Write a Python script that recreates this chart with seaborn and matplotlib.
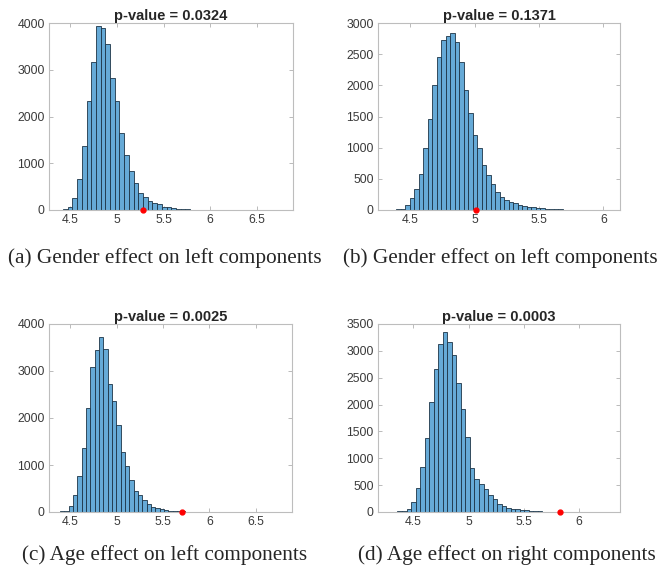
import numpy as np
import pandas as pd
import matplotlib
matplotlib.use("Agg")
import matplotlib.pyplot as plt
import seaborn as sns

sns.set_style("ticks")
plt.rcParams["font.family"] = ["Liberation Sans", "DejaVu Sans"]

# ---------------- permutation histograms (bin counts) ----------------
counts_a = [1, 3, 15, 71, 250, 657, 1371, 2321, 3164, 3929, 3886, 3557, 2821, 2321,
            1643, 1179, 843, 571, 371, 286, 193, 157, 121, 71, 57, 43, 29, 21, 15, 10,
            8, 6, 4, 3, 3, 2, 2, 1, 1, 1, 1, 1, 0, 0, 0, 1, 0, 0, 1]
counts_b = [3, 6, 10, 20, 80, 187, 332, 578, 1002, 1457, 2009, 2448, 2721, 2796, 2839,
            2700, 2368, 1929, 1560, 1205, 990, 720, 560, 420, 290, 210, 165, 135, 115,
            80, 72, 54, 43, 37, 30, 21, 15, 12, 10, 8, 6, 5, 4, 3, 2, 2, 1, 1, 1, 0, 1]
counts_c = [1, 4, 14, 28, 128, 356, 762, 1367, 2221, 3082, 3452, 3722, 3466, 2726, 2363,
            1851, 1267, 975, 676, 448, 356, 249, 164, 114, 93, 71, 50, 28, 21, 15, 11, 8,
            6, 4, 3, 3, 2, 2, 1, 1, 1, 1, 0, 1, 0, 0, 1, 0, 0, 1, 0, 0, 1]
counts_d = [2, 6, 12, 25, 62, 187, 448, 841, 1382, 2055, 2665, 3126, 3350, 3157, 2914,
            2410, 1918, 1389, 822, 610, 529, 423, 324, 249, 156, 112, 75, 62, 50, 37, 31,
            25, 19, 12, 9, 7, 5, 4, 3, 2, 2, 1, 1, 1, 1, 0, 1, 0, 1]

# first bin edge and bin width of each histogram
bin_start = [4.32, 4.32, 4.297, 4.274]
bin_width = [0.0505, 0.035, 0.0466, 0.041]

observed = [5.28, 5.01, 5.70, 5.83]
pvalues = ["0.0324", "0.1371", "0.0025", "0.0003"]
captions = ["(a) Gender effect on left components",
            "(b) Gender effect on left components",
            "(c) Age effect on left components",
            "(d) Age effect on right components"]
xticks = [[4.5, 5, 5.5, 6, 6.5], [4.5, 5, 5.5, 6], [4.5, 5, 5.5, 6, 6.5], [4.5, 5, 5.5, 6]]
yticks = [[0, 1000, 2000, 3000, 4000], [0, 500, 1000, 1500, 2000, 2500, 3000],
          [0, 1000, 2000, 3000, 4000], [0, 500, 1000, 1500, 2000, 2500, 3000, 3500]]
xlims = [(4.27, 6.89), (4.25, 6.13), (4.27, 6.89), (4.18, 6.37)]
all_counts = [counts_a, counts_b, counts_c, counts_d]

W, H = 667, 577
fig = plt.figure(figsize=(W / 100, H / 100), dpi=100)
# axes boxes in pixels: left, top, right, bottom
boxes = [(49, 23, 293, 210), (378, 23, 620, 210), (49, 324, 292, 512), (378, 324, 620, 512)]
cap_pos = [(165, 258), (500, 258), (165, 555), (507, 555)]

for i in range(4):
    l, t, r, b = boxes[i]
    ax = fig.add_axes([l / W, 1 - b / H, (r - l) / W, (b - t) / H])
    counts = np.array(all_counts[i], dtype=float)
    edges = bin_start[i] + bin_width[i] * np.arange(len(counts) + 1)
    df = pd.DataFrame({"value": (edges[:-1] + edges[1:]) / 2, "n": counts})
    sns.histplot(data=df, x="value", weights="n", bins=list(edges), ax=ax,
                 color="#66aad7", alpha=1, edgecolor="#1d3447", linewidth=0.6)
    ax.plot(observed[i], 0, "o", color="red", ms=3.5, clip_on=False, zorder=5)
    ax.set_xlim(*xlims[i])
    ax.set_ylim(0, yticks[i][-1])
    ax.set_xticks(xticks[i], [f"{v:g}" for v in xticks[i]])
    ax.set_yticks(yticks[i])
    ax.set_xlabel("")
    ax.set_ylabel("")
    ax.tick_params(direction="in", length=3, width=0.6, color="#b0b0b0",
                   labelsize=8.8, labelcolor="#3a3a3a", top=True, right=True, pad=3)
    for s in ax.spines.values():
        s.set_color("#bdbdbd")
        s.set_linewidth(0.8)
    ax.set_title(f"p-value = {pvalues[i]}", fontsize=10.5, fontweight="bold", pad=2)
    fig.text(cap_pos[i][0] / W, 1 - cap_pos[i][1] / H, captions[i], ha="center",
             va="center", fontsize=15.3, family=["Liberation Serif", "DejaVu Serif"])

plt.savefig("out.png", dpi=100)
